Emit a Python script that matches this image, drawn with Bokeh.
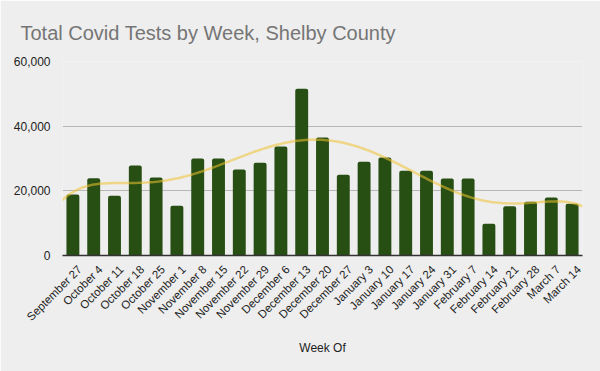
import numpy as np
from math import pi
from bokeh.plotting import figure
from bokeh.models import ColumnDataSource, Range1d, NumeralTickFormatter, FixedTicker
from bokeh.embed import file_html
from bokeh.resources import INLINE

weeks = ["September 27", "October 4", "October 11", "October 18", "October 25",
         "November 1", "November 8", "November 15", "November 22", "November 29",
         "December 6", "December 13", "December 20", "December 27", "January 3",
         "January 10", "January 17", "January 24", "January 31", "February 7",
         "February 14", "February 21", "February 28", "March 7", "March 14"]
tests = [18900, 23900, 18500, 27800, 24100, 15400, 30000, 30000, 26600, 28700,
         33700, 51600, 36500, 25000, 29000, 30300, 26200, 26200, 23800, 23800,
         9800, 15200, 16600, 17900, 16000]
y_ticks = [0, 20000, 40000, 60000]

n = len(weeks)
pos = np.arange(n) + 0.5
src = ColumnDataSource(data=dict(x=pos, week=weeks, tests=tests))

p = figure(width=600, height=371, x_range=Range1d(0, n),
           y_range=Range1d(0, 60000), output_backend="svg", toolbar_location=None,
           min_border_left=62, min_border_right=18, min_border_top=61, min_border_bottom=116,
           background_fill_color="#eeeeee", border_fill_color="#eeeeee",
           outline_line_color=None)

p.vbar(x="x", top="tests", width=0.62, source=src, fill_color="#274e13",
       line_color=None, border_radius=(2, 2, 0, 0))

# polynomial trendline fitted to the weekly totals
coef = np.polyfit(pos, np.array(tests, dtype=float), 6)
xs = np.linspace(0, n, 200)
p.line(xs, np.polyval(coef, xs), line_color="#f1c232", line_alpha=0.55, line_width=2.5)

p.title.text = "Total Covid Tests by Week, Shelby County"
p.title.text_font = "Liberation Sans"
p.title.text_font_size = "20px"
p.title.text_font_style = "normal"
p.title.text_color = "#757575"
p.title.offset = -42
p.title.standoff = 36

p.yaxis.ticker = y_ticks
p.yaxis.formatter = NumeralTickFormatter(format="0,0")
p.yaxis.axis_line_color = None
p.yaxis.major_tick_line_color = None
p.yaxis.minor_tick_line_color = None
p.yaxis.major_label_text_font = "Liberation Sans"
p.yaxis.major_label_text_font_size = "12px"
p.yaxis.major_label_text_color = "#222222"
p.yaxis.major_label_standoff = 6

# week labels: anchored slightly right of each bar centre, as in the original
label_pos = [float(v) + 0.33 for v in pos]
p.xaxis.ticker = FixedTicker(ticks=label_pos)
p.xaxis.major_label_overrides = {v: w for v, w in zip(label_pos, weeks)}
p.xaxis.axis_line_color = "#333333"
p.xaxis.axis_line_width = 1.5
p.xaxis.major_tick_line_color = None
p.xaxis.minor_tick_line_color = None
p.xaxis.major_label_orientation = pi / 4
p.xaxis.major_label_text_font = "Liberation Sans"
p.xaxis.major_label_text_font_size = "11.5px"
p.xaxis.major_label_text_color = "#222222"
p.xaxis.major_label_standoff = 6
p.xaxis.axis_label = "Week Of"
p.xaxis.axis_label_text_font = "Liberation Sans"
p.xaxis.axis_label_text_font_size = "12px"
p.xaxis.axis_label_text_font_style = "normal"
p.xaxis.axis_label_text_color = "#222222"
p.xaxis.axis_label_standoff = 11

p.xgrid.grid_line_color = None
p.ygrid.grid_line_color = "#b7b7b7"
p.ygrid.grid_line_width = 1

open("out.html", "w").write(file_html(p, INLINE))
